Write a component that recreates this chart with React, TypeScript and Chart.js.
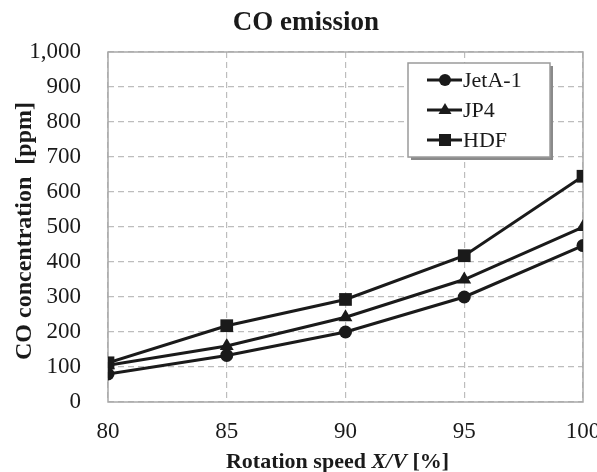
import React, { useEffect, useRef } from "react";
import { Chart, registerables } from "chart.js";

Chart.register(...registerables);

const rotationSpeed = [80, 85, 90, 95, 100];
const jetA1 = [80, 133, 200, 300, 447];
const jp4 = [105, 160, 242, 350, 500];
const hdf = [112, 218, 293, 418, 645];
const seriesNames = ["JetA-1", "JP4", "HDF"];
const chartTitle = "CO emission";
const yTitle = "CO concentration  [ppm]";
const xTitleParts = ["Rotation speed ", "X/V", " [%]"];

const SERIF = "'Liberation Serif', 'Times New Roman', serif";
const INK = "#1a1a1a";

const decorPlugin = {
  id: "decor",
  beforeDatasetsDraw(chart: any) {
    const { ctx, chartArea: a } = chart;
    ctx.save();
    ctx.setLineDash([]);
    ctx.strokeStyle = "#a8a8a8";
    ctx.lineWidth = 1.5;
    ctx.strokeRect(a.left, a.top, a.right - a.left, a.bottom - a.top);
    ctx.restore();
  },
  afterDraw(chart: any) {
    const { ctx, chartArea: a } = chart;
    ctx.save();
    ctx.fillStyle = INK;
    // chart title
    ctx.font = `bold 27px ${SERIF}`;
    ctx.textAlign = "center";
    ctx.textBaseline = "alphabetic";
    ctx.fillText(chartTitle, 306, 30);
    // y title
    ctx.save();
    ctx.translate(31, (a.top + a.bottom) / 2 + 4);
    ctx.rotate(-Math.PI / 2);
    ctx.font = `bold 24px ${SERIF}`;
    ctx.fillText(yTitle, 0, 0);
    ctx.restore();
    // x title with italic part
    const fonts = [`bold 22px ${SERIF}`, `italic bold 22px ${SERIF}`, `bold 22px ${SERIF}`];
    let total = 0;
    const widths = xTitleParts.map((t, i) => {
      ctx.font = fonts[i];
      const w = ctx.measureText(t).width;
      total += w;
      return w;
    });
    let x = (a.left + a.right) / 2 - 8 - total / 2;
    ctx.textAlign = "left";
    xTitleParts.forEach((t, i) => {
      ctx.font = fonts[i];
      ctx.fillText(t, x, 468);
      x += widths[i];
    });

    // legend box
    const bx = 408, by = 63, bw = 142, bh = 94;
    ctx.fillStyle = "#8a8a8a";
    ctx.fillRect(bx + 3, by + 3, bw, bh);
    ctx.fillStyle = "#ffffff";
    ctx.fillRect(bx, by, bw, bh);
    ctx.strokeStyle = "#9a9a9a";
    ctx.lineWidth = 1.5;
    ctx.strokeRect(bx, by, bw, bh);
    const rows = [80, 110, 140];
    const shapes = ["circle", "triangle", "rect"];
    rows.forEach((cy, i) => {
      ctx.strokeStyle = INK;
      ctx.fillStyle = INK;
      ctx.lineWidth = 3;
      ctx.beginPath();
      ctx.moveTo(427, cy);
      ctx.lineTo(462, cy);
      ctx.stroke();
      const mx = 445;
      ctx.beginPath();
      if (shapes[i] === "circle") {
        ctx.arc(mx, cy, 6, 0, Math.PI * 2);
      } else if (shapes[i] === "triangle") {
        ctx.moveTo(mx, cy - 7);
        ctx.lineTo(mx + 6.5, cy + 4);
        ctx.lineTo(mx - 6.5, cy + 4);
        ctx.closePath();
      } else {
        ctx.rect(mx - 6, cy - 6, 12, 12);
      }
      ctx.fill();
      ctx.font = `22px ${SERIF}`;
      ctx.textAlign = "left";
      ctx.textBaseline = "alphabetic";
      ctx.fillText(seriesNames[i], 463, cy + 7);
    });
    ctx.restore();
  },
};

export default function App() {
  const ref = useRef<HTMLCanvasElement | null>(null);
  useEffect(() => {
    if (!ref.current) return;
    const mk = (vals: number[]) => vals.map((v, i) => ({ x: rotationSpeed[i], y: v }));
    const chart = new Chart(ref.current, {
      type: "line",
      data: {
        datasets: [
          { label: seriesNames[0], data: mk(jetA1), pointStyle: "circle", pointRadius: 6.5 },
          { label: seriesNames[1], data: mk(jp4), pointStyle: "triangle", pointRadius: 8 },
          { label: seriesNames[2], data: mk(hdf), pointStyle: "rect", pointRadius: 9 },
        ].map((d) => ({
          ...d,
          borderColor: INK,
          backgroundColor: INK,
          pointBackgroundColor: INK,
          pointBorderColor: INK,
          pointBorderWidth: 0,
          borderWidth: 3,
          tension: 0,
          fill: false,
        })),
      },
      options: {
        animation: false,
        responsive: false,
        layout: { padding: { top: 52, right: 14, bottom: 0, left: 0 } },
        plugins: { legend: { display: false }, tooltip: { enabled: false }, title: { display: false } },
        scales: {
          x: {
            type: "linear",
            min: rotationSpeed[0],
            max: rotationSpeed[rotationSpeed.length - 1],
            afterBuildTicks: (s: any) => {
              s.ticks = rotationSpeed.map((v) => ({ value: v }));
            },
            ticks: { color: INK, font: { family: SERIF, size: 23 }, padding: 16, maxRotation: 0 },
            grid: { color: "#bdbdbd", lineWidth: 1.2, drawTicks: false },
            border: { display: false, dash: [6, 4] },
            afterFit: (s: any) => {
              s.height = 70;
              s.paddingLeft = 0;
              s.paddingRight = 0;
            },
          },
          y: {
            min: 0,
            max: 1000,
            ticks: {
              stepSize: 100,
              color: INK,
              font: { family: SERIF, size: 23 },
              padding: 27,
              callback: (v: any) => Number(v).toLocaleString("en-US"),
            },
            grid: { color: "#bdbdbd", lineWidth: 1.2, drawTicks: false },
            border: { display: false, dash: [6, 4] },
            afterFit: (s: any) => {
              s.width = 108;
              s.paddingTop = 0;
              s.paddingBottom = 0;
            },
          },
        },
      },
      plugins: [decorPlugin],
    });
    return () => chart.destroy();
  }, []);
  return (
    <div style={{ position: "absolute", left: 0, top: 0, width: 597, height: 472, background: "#fff" }}>
      <canvas ref={ref} width={597} height={472} />
    </div>
  );
}
